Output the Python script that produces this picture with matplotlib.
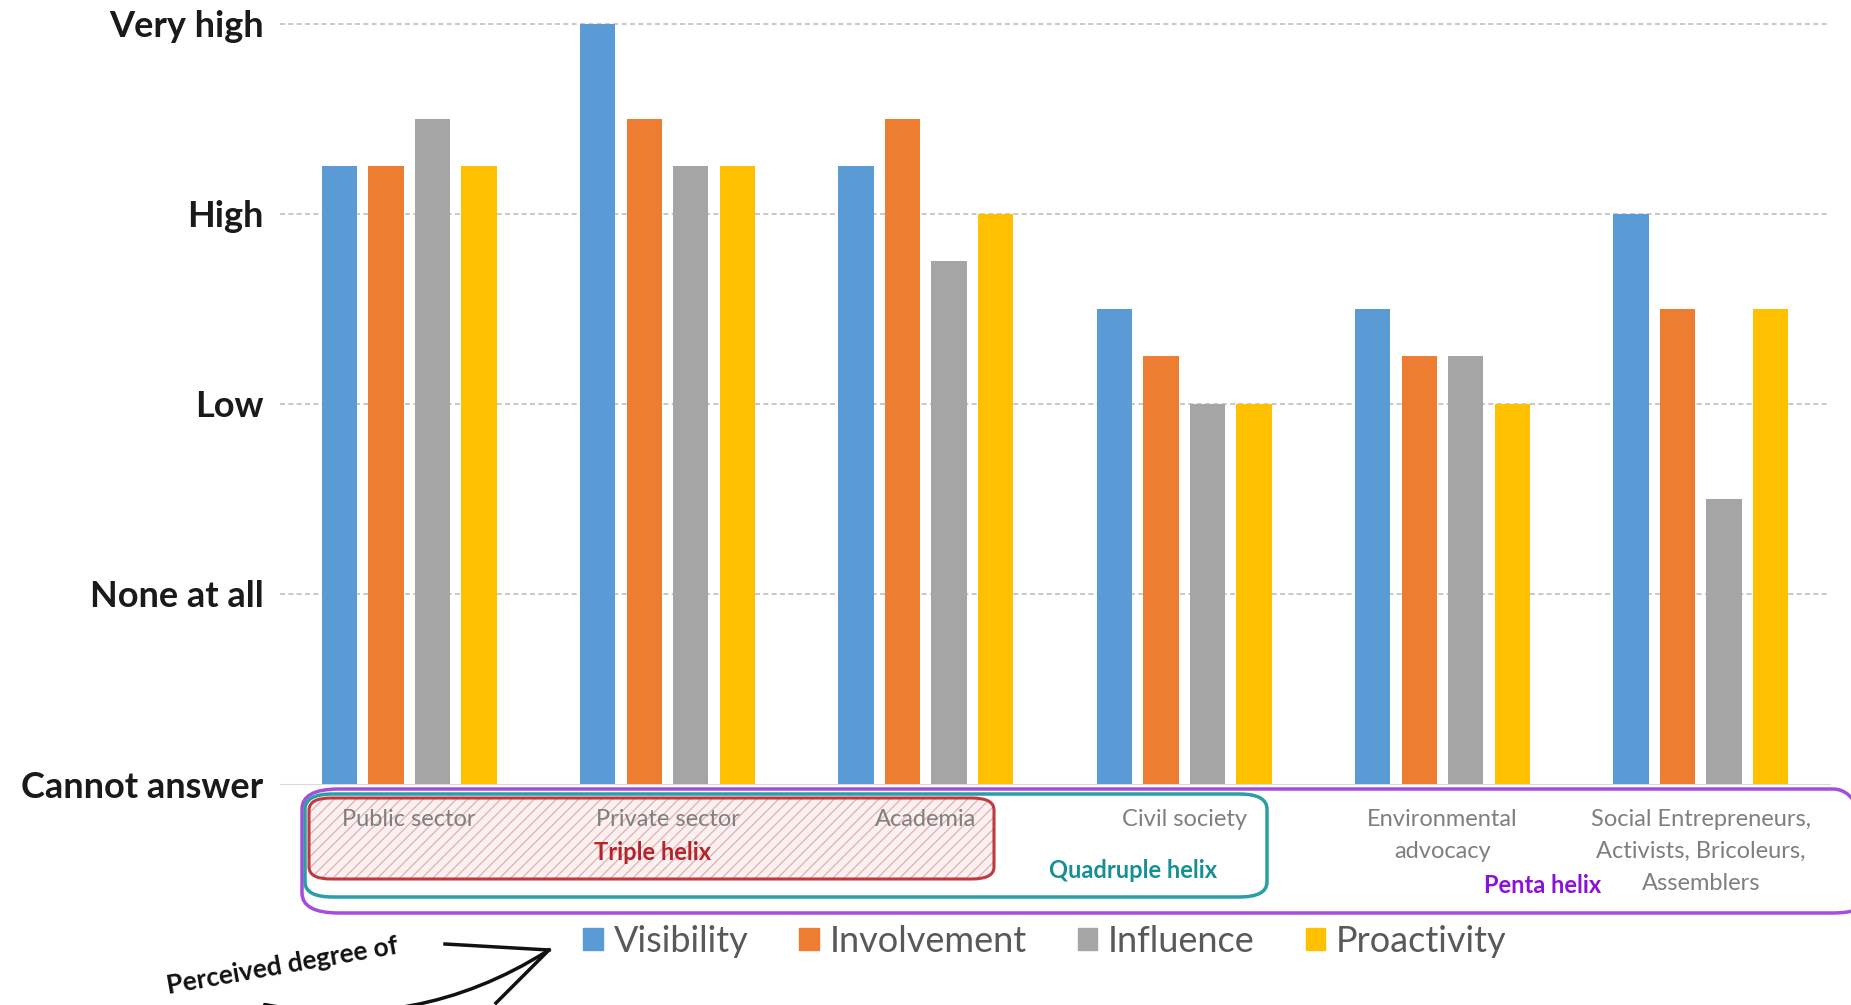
import numpy as np
import matplotlib.pyplot as plt
from matplotlib.patches import FancyBboxPatch, Patch, FancyArrowPatch

plt.rcParams['font.family'] = ['Lato', 'DejaVu Sans']
plt.rcParams['hatch.linewidth'] = 0.9

categories = ['Public sector', 'Private sector', 'Academia', 'Civil society',
              'Environmental\nadvocacy', 'Social Entrepreneurs,\nActivists, Bricoleurs,\nAssemblers']
series = ['Visibility', 'Involvement', 'Influence', 'Proactivity']
visibility = [3.25, 4.0, 3.25, 2.5, 2.5, 3.0]
involvement = [3.25, 3.5, 3.5, 2.25, 2.25, 2.5]
influence = [3.5, 3.25, 2.75, 2.0, 2.25, 1.5]
proactivity = [3.25, 3.25, 3.0, 2.0, 2.0, 2.5]
level_labels = ['Cannot answer', 'None at all', 'Low', 'High', 'Very high']
colors = ['#5B9BD5', '#ED7D31', '#A5A5A5', '#FFC000']

W, H = 1851, 1005
fig = plt.figure(figsize=(W / 100, H / 100), dpi=100)
ax = fig.add_axes([280 / W, 1 - 784 / H, 1550 / W, (784 - 14) / H])

def px(x, y):
    return x / W, 1 - y / H

x = np.arange(len(categories))
pitch = 0.18
width = 0.137
for i, vals in enumerate([visibility, involvement, influence, proactivity]):
    ax.bar(x + (i - 1.5) * pitch, vals, width, color=colors[i], label=series[i], zorder=3)

ax.set_xlim(-0.5, len(categories) - 0.5)
ax.set_ylim(0, 4.05)
ax.set_yticks(range(5))
ax.set_yticklabels(level_labels, fontsize=26, fontweight='bold', color='#1a1a1a')
ax.tick_params(axis='y', length=0, pad=12)
ax.set_xticks([])
for y in range(1, 5):
    ax.axhline(y, color='#bfbfbf', lw=1.2, ls=(0, (3, 2)), zorder=1)
for s in ['top', 'right', 'left']:
    ax.spines[s].set_visible(False)
ax.spines['bottom'].set_color('#d9d9d9')

# category labels under the axis
for i, c in enumerate(categories):
    ax.annotate(c, xy=(x[i], 0), xycoords='data', xytext=(0, -18), textcoords='offset points',
                ha='center', va='top', fontsize=17, color='#7f7f7f', linespacing=1.65)

# helix groupings (drawn behind the labels)
def box(x0, y0, x1, y1, r, **kw):
    p = FancyBboxPatch(px(x0, y1), (x1 - x0) / W, (y1 - y0) / H,
                       boxstyle='round,pad=0,rounding_size=%g' % r, transform=fig.transFigure,
                       clip_on=False, zorder=-1, **kw)
    fig.patches.append(p)

box(302, 789, 1870, 913, 0.02, fill=False, ec='#a64ddb', lw=2.5)
box(305, 794, 1267, 897, 0.015, fill=False, ec='#2a9ea5', lw=2.5)
box(309, 798, 994, 879, 0.012, fc='#fcf0f0', ec='#e0b0b0', lw=0, hatch='///')
box(309, 798, 994, 879, 0.012, fill=False, ec='#c0393f', lw=2.2)

fig.text(*px(653, 852), 'Triple helix', ha='center', va='center', fontsize=17,
         fontweight='bold', color='#b5232b')
fig.text(*px(1133, 870), 'Quadruple helix', ha='center', va='center', fontsize=17,
         fontweight='bold', color='#168f95')
fig.text(*px(1543, 885), 'Penta helix', ha='center', va='center', fontsize=17,
         fontweight='bold', color='#8a12d6')

# legend
handles = [Patch(color=c, label=s) for c, s in zip(colors, series)]
fig.legend(handles=handles, loc='center', bbox_to_anchor=px(1045, 941), ncol=4,
           frameon=False, fontsize=26, handlelength=0.55, handleheight=0.55,
           handletextpad=0.3, columnspacing=1.4, labelcolor='#595959')

# "Perceived degree of" note and arrow
fig.text(*px(282, 966), 'Perceived degree of', ha='center', va='center', fontsize=19,
         fontweight='bold', rotation=10, color='#111111')
arr = FancyArrowPatch(px(262, 1004), px(549, 950), transform=fig.transFigure,
                      connectionstyle='arc3,rad=0.2', arrowstyle='-', lw=2.5, color='#111111')
fig.patches.append(arr)
fig.lines.append(plt.Line2D([445 / W, 549 / W], [1 - 944 / H, 1 - 950 / H],
                            transform=fig.transFigure, color='#111111', lw=2.5))
fig.lines.append(plt.Line2D([549 / W, 496 / W], [1 - 950 / H, 1 - 1003 / H],
                            transform=fig.transFigure, color='#111111', lw=2.5))

fig.savefig('out.png', dpi=100, facecolor='white')
